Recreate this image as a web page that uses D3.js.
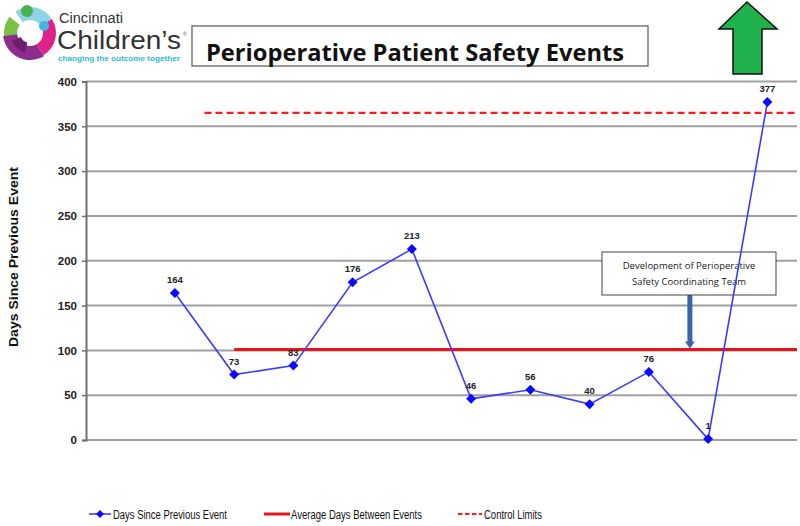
<!DOCTYPE html>
<html>
<head>
<meta charset="utf-8">
<script src="https://cdn.jsdelivr.net/npm/d3@7"></script>
<style>
  html, body { margin: 0; padding: 0; background: #fff; }
  svg { display: block; }
</style>
</head>
<body>
<script>
// ---- data ----
const categories = ["", "1", "2", "3", "4", "5", "6", "7", "8", "9", "10", "11"];
const daysSince = [null, 164, 73, 83, 176, 213, 46, 56, 40, 76, 1, 377];
const averageDays = 101;
const controlLimit = 365;
const averageStartIndex = 2;
const controlStartIndex = 2;
const yTicks = [0, 50, 100, 150, 200, 250, 300, 350, 400];
const legendLabels = ["Days Since Previous Event", "Average Days Between Events", "Control Limits"];
const titleText = "Perioperative Patient Safety Events";
const noteLines = ["Development of Perioperative", "Safety Coordinating Team"];

const W = 800, H = 526;
const svg = d3.select("body").append("svg").attr("width", W).attr("height", H);

const plot = { left: 86, right: 797, top: 81.5, bottom: 440 };
const x = d3.scaleBand().domain(categories).range([plot.left, plot.right]).padding(0);
const y = d3.scaleLinear().domain([0, 400]).range([plot.bottom, plot.top]);
const cx = i => x(categories[i]) + x.bandwidth() / 2;

// gridlines
svg.append("g").selectAll("line").data(yTicks).join("line")
  .attr("x1", plot.left).attr("x2", plot.right)
  .attr("y1", d => y(d)).attr("y2", d => y(d))
  .attr("stroke", "#a0a0a0").attr("stroke-width", 2);

// y axis
const yAxis = d3.axisLeft(y).tickValues(yTicks).tickSize(4).tickPadding(5);
const gy = svg.append("g").attr("transform", `translate(${plot.left},0)`).call(yAxis);
gy.select(".domain").attr("stroke", "#707070").attr("stroke-width", 2);
gy.selectAll(".tick line").attr("stroke", "#707070").attr("stroke-width", 1.5);
gy.selectAll(".tick text").attr("font-family", "Liberation Sans, Arial, sans-serif")
  .attr("font-size", 11.5).attr("font-weight", "bold").attr("fill", "#222");

// y axis title
svg.append("text")
  .attr("transform", `translate(18,257) rotate(-90)`)
  .attr("text-anchor", "middle")
  .attr("font-family", "Liberation Sans, Arial, sans-serif")
  .attr("font-size", 13).attr("font-weight", "bold").attr("fill", "#111")
  .attr("textLength", 180).attr("lengthAdjust", "spacingAndGlyphs")
  .text("Days Since Previous Event");

// control limits (dashed)
svg.append("line")
  .attr("x1", x(categories[controlStartIndex])).attr("x2", plot.right)
  .attr("y1", y(controlLimit)).attr("y2", y(controlLimit))
  .attr("stroke", "#ff1a1a").attr("stroke-width", 2.2).attr("stroke-dasharray", "7,4");

// average line
svg.append("line")
  .attr("x1", cx(averageStartIndex)).attr("x2", plot.right)
  .attr("y1", y(averageDays)).attr("y2", y(averageDays))
  .attr("stroke", "#e8141a").attr("stroke-width", 3);

// annotation box + arrow
const noteX = 602, noteY = 252, noteW = 174, noteH = 43;
const arrowX = cx(9) + 41;
svg.append("rect").attr("x", arrowX - 2.5).attr("y", noteY + noteH).attr("width", 5)
  .attr("height", y(averageDays) - (noteY + noteH) - 7).attr("fill", "#3b64ad");
svg.append("path")
  .attr("d", `M${arrowX - 5},${y(averageDays) - 8} L${arrowX + 5},${y(averageDays) - 8} L${arrowX},${y(averageDays) - 1} Z`)
  .attr("fill", "#3b64ad");
svg.append("rect").attr("x", noteX).attr("y", noteY).attr("width", noteW).attr("height", noteH)
  .attr("fill", "#fff").attr("stroke", "#444").attr("stroke-width", 1);
svg.append("g").selectAll("text").data(noteLines).join("text")
  .attr("x", noteX + noteW / 2).attr("y", (d, i) => noteY + 17 + i * 16)
  .attr("text-anchor", "middle")
  .attr("font-family", "Open Sans, Liberation Sans, sans-serif")
  .attr("font-size", 9.5).attr("fill", "#222").text(d => d);

// series line
const pts = daysSince.map((v, i) => ({ i, v })).filter(d => d.v !== null);
svg.append("path").datum(pts)
  .attr("d", d3.line().x(d => cx(d.i)).y(d => y(d.v)))
  .attr("fill", "none").attr("stroke", "#3b3bff").attr("stroke-width", 1.6);

// markers
svg.append("g").selectAll("path").data(pts).join("path")
  .attr("transform", d => `translate(${cx(d.i)},${y(d.v)})`)
  .attr("d", "M0,-5 L5,0 L0,5 L-5,0 Z")
  .attr("fill", "#0a0aff");

// data labels
svg.append("g").selectAll("text").data(pts).join("text")
  .attr("x", d => cx(d.i)).attr("y", d => y(d.v) - 10)
  .attr("text-anchor", "middle")
  .attr("font-family", "Liberation Sans, Arial, sans-serif")
  .attr("font-size", 9.5).attr("font-weight", "bold").attr("fill", "#222")
  .text(d => d.v);

// title box
svg.append("rect").attr("x", 192).attr("y", 26).attr("width", 456).attr("height", 40)
  .attr("fill", "#fff").attr("stroke", "#555").attr("stroke-width", 1.2);
svg.append("text").attr("x", 206).attr("y", 61)
  .attr("font-family", "Open Sans, Lato, sans-serif").attr("font-weight", "bold")
  .attr("font-size", 23).attr("fill", "#111").attr("textLength", 418)
  .attr("lengthAdjust", "spacingAndGlyphs")
  .text(titleText);

// green arrow
svg.append("path")
  .attr("d", "M747,2 L777,29 L762,29 L762,74 L733,74 L733,29 L719,29 Z")
  .attr("fill", "#1fb14b").attr("stroke", "#111").attr("stroke-width", 1.5)
  .attr("stroke-linejoin", "miter");

// logo
const logo = svg.append("g").attr("transform", "translate(30,33)");
const arc = d3.arc();
const segs = [
  { r0: 13, r1: 26, a0: -2.2, a1: -0.9, c: "#7ac143" },
  { r0: 13, r1: 26, a0: -0.6, a1: 1.0, c: "#8fd3e6" },
  { r0: 13, r1: 26, a0: 1.0, a1: 2.6, c: "#e0218a" },
  { r0: 13, r1: 27, a0: 2.6, a1: 4.6, c: "#8e2c8e" },
  { r0: 10, r1: 20, a0: 3.4, a1: 4.3, c: "#6f1d6f" }
];
logo.selectAll("path").data(segs).join("path")
  .attr("d", d => arc({ innerRadius: d.r0, outerRadius: d.r1, startAngle: d.a0, endAngle: d.a1 }))
  .attr("fill", d => d.c);
logo.append("circle").attr("cx", 14).attr("cy", -7).attr("r", 5).attr("fill", "#3fb6dc");
logo.append("circle").attr("cx", -3).attr("cy", -22).attr("r", 6).attr("fill", "#4caf50");
svg.append("text").attr("x", 59).attr("y", 23)
  .attr("font-family", "Liberation Sans, Arial, sans-serif").attr("font-size", 14).attr("fill", "#333")
  .attr("textLength", 64).attr("lengthAdjust", "spacingAndGlyphs")
  .text("Cincinnati");
svg.append("text").attr("x", 57).attr("y", 49)
  .attr("font-family", "Liberation Sans, Arial, sans-serif").attr("font-size", 25).attr("fill", "#333")
  .attr("textLength", 124).attr("lengthAdjust", "spacingAndGlyphs")
  .text("Children’s");
svg.append("text").attr("x", 183).attr("y", 36)
  .attr("font-family", "Liberation Sans, sans-serif").attr("font-size", 5).attr("fill", "#555").text("®");
svg.append("text").attr("x", 58).attr("y", 61)
  .attr("font-family", "Liberation Sans, Arial, sans-serif").attr("font-size", 7).attr("font-weight", "bold")
  .attr("fill", "#2eb8d8").attr("textLength", 122).attr("lengthAdjust", "spacingAndGlyphs")
  .text("changing the outcome together");

// legend
const lg = svg.append("g").attr("font-family", "Liberation Sans, Arial, sans-serif")
  .attr("font-size", 12.5).attr("fill", "#111");
lg.append("line").attr("x1", 89).attr("x2", 111).attr("y1", 514).attr("y2", 514)
  .attr("stroke", "#3b3bff").attr("stroke-width", 1.6);
lg.append("path").attr("transform", "translate(100,514)").attr("d", "M0,-4 L4,0 L0,4 L-4,0 Z").attr("fill", "#0a0aff");
lg.append("text").attr("x", 113).attr("y", 518.5)
  .attr("textLength", 114).attr("lengthAdjust", "spacingAndGlyphs").text(legendLabels[0]);
lg.append("line").attr("x1", 264).attr("x2", 290).attr("y1", 514).attr("y2", 514)
  .attr("stroke", "#e8141a").attr("stroke-width", 3);
lg.append("text").attr("x", 291).attr("y", 518.5)
  .attr("textLength", 131).attr("lengthAdjust", "spacingAndGlyphs").text(legendLabels[1]);
lg.append("line").attr("x1", 458).attr("x2", 482).attr("y1", 514).attr("y2", 514)
  .attr("stroke", "#ff1a1a").attr("stroke-width", 2.2).attr("stroke-dasharray", "4.5,2.5");
lg.append("text").attr("x", 484).attr("y", 518.5)
  .attr("textLength", 58).attr("lengthAdjust", "spacingAndGlyphs").text(legendLabels[2]);
</script>
</body>
</html>
